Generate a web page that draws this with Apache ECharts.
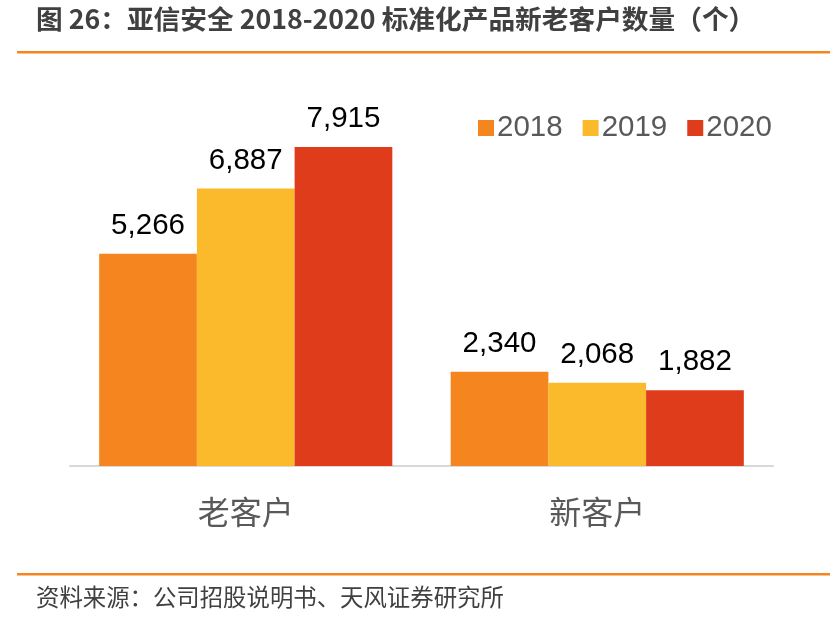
<!DOCTYPE html>
<html><head><meta charset="utf-8">
<script src="https://cdn.jsdelivr.net/npm/echarts@6/dist/echarts.min.js"></script>
<style>html,body{margin:0;padding:0;background:#fff}#c{width:835px;height:627px}</style>
</head><body><div id="c"></div>
<script>
var categories = ['老客户', '新客户'];
var seriesNames = ['2018', '2019', '2020'];
var values2018 = [5266, 2340];
var values2019 = [6887, 2068];
var values2020 = [7915, 1882];
var colors = ['#F5851F', '#FBBA2C', '#DE3C1B'];
var font = '"Noto Sans CJK SC", "Liberation Sans", Arial, sans-serif';
var data = [values2018, values2019, values2020];
var chart = echarts.init(document.getElementById('c'));
chart.setOption({
  animation: false,
  textStyle: {fontFamily: font},
  graphic: [
    {type: 'text', left: 36, top: 6, style: {text: '图 26：亚信安全 2018-2020 标准化产品新老客户数量（个）', font: 'bold 26.7px ' + font, fill: '#404040'}},
    {type: 'rect', shape: {x: 17, y: 51, width: 813, height: 2.5}, style: {fill: '#F5851F'}},
    {type: 'rect', shape: {x: 17, y: 573, width: 813, height: 2.5}, style: {fill: '#F5851F'}},
    {type: 'text', left: 36, top: 585, style: {text: '资料来源：公司招股说明书、天风证券研究所', font: '23.4px ' + font, fill: '#404040'}}
  ],
  legend: {
    data: seriesNames, top: 108, left: 473, itemWidth: 16, itemHeight: 16, itemGap: 20,
    icon: 'rect',
    textStyle: {fontSize: 29.5, color: '#595959', fontFamily: 'Liberation Sans, Arial', padding: [0, 0, 0, -2]}
  },
  grid: {left: 70, right: 62, bottom: 161, top: 63},
  xAxis: {
    type: 'category', data: categories,
    axisLine: {lineStyle: {color: '#D9D9D9', width: 2}},
    axisTick: {show: false},
    axisLabel: {fontSize: 32, color: '#595959', margin: 30}
  },
  yAxis: {type: 'value', min: 0, max: 10000, show: false, splitLine: {show: false}},
  series: seriesNames.map(function (n, i) {
    return {
      name: n, type: 'bar', data: data[i], barGap: '0%', barCategoryGap: '16.6%',
      itemStyle: {color: colors[i]},
      label: {show: true, position: 'top', distance: 13, fontSize: 29.5, color: '#000', fontFamily: 'Liberation Sans, Arial',
        formatter: function (p) { return p.value.toLocaleString('en-US'); }}
    };
  })
});
</script></body></html>
